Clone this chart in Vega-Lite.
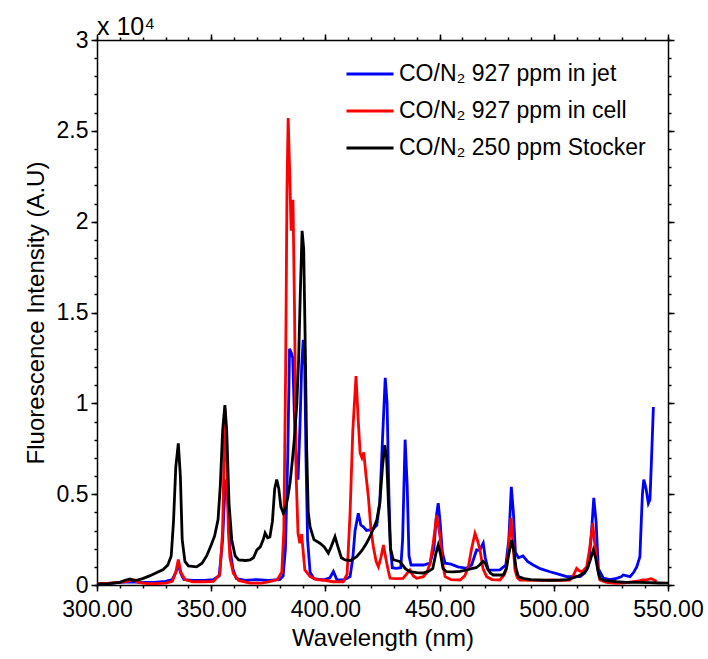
{
  "$schema": "https://vega.github.io/schema/vega-lite/v6.json",
  "width": 571,
  "height": 545,
  "autosize": "none",
  "padding": {"left": 97, "top": 40, "right": 40, "bottom": 74},
  "background": "white",
  "config": {
    "view": {"stroke": null},
    "font": "Liberation Sans",
    "axis": {"grid": false, "offset": 0, "domainColor": "black", "domainWidth": 1.5, "tickColor": "black", "tickWidth": 1.5, "labelColor": "black", "titleColor": "black", "labelFont": "Liberation Sans", "titleFont": "Liberation Sans", "titleFontWeight": "normal"}
  },
  "title": {"text": "x 10⁴", "anchor": "start", "frame": "group", "fontSize": 25, "fontWeight": "normal", "font": "Liberation Sans", "color": "black", "offset": -11},
  "datasets": {
    "jet": [
      {"w":300,"v":50},{"w":305,"v":80},{"w":310,"v":150},{"w":315,"v":180},{"w":320,"v":150},{"w":325,"v":150},{"w":330,"v":200},{"w":333,"v":300},{"w":334.5,"v":700},{"w":335.6,"v":1100},{"w":336.8,"v":600},{"w":338,"v":300},{"w":342,"v":250},{"w":347,"v":250},{"w":351,"v":300},{"w":353.5,"v":500},{"w":355,"v":2500},{"w":356.2,"v":5800},{"w":357.2,"v":5000},{"w":358.2,"v":2000},{"w":359.5,"v":900},{"w":361,"v":350},{"w":365,"v":250},{"w":370,"v":300},{"w":375,"v":250},{"w":380,"v":300},{"w":381.5,"v":500},{"w":382.5,"v":2000},{"w":383.5,"v":7000},{"w":384.3,"v":13000},{"w":385,"v":12800},{"w":385.7,"v":12500},{"w":386.5,"v":9000},{"w":387.3,"v":6500},{"w":388,"v":5800},{"w":388.8,"v":8500},{"w":389.6,"v":12000},{"w":390.3,"v":13500},{"w":390.9,"v":12500},{"w":391.5,"v":7000},{"w":392.2,"v":2500},{"w":393.3,"v":700},{"w":395,"v":350},{"w":399,"v":275},{"w":402,"v":400},{"w":403.5,"v":750},{"w":405,"v":300},{"w":408,"v":275},{"w":410.8,"v":460},{"w":412,"v":1500},{"w":413,"v":3000},{"w":414.4,"v":3950},{"w":415.5,"v":3300},{"w":416.6,"v":3200},{"w":418,"v":3000},{"w":419.5,"v":3030},{"w":421,"v":3100},{"w":422.5,"v":3300},{"w":423.8,"v":4500},{"w":425,"v":8000},{"w":426.2,"v":11400},{"w":427,"v":10000},{"w":427.8,"v":5000},{"w":428.5,"v":2000},{"w":429.3,"v":950},{"w":431,"v":920},{"w":433,"v":950},{"w":433.8,"v":2500},{"w":434.9,"v":8000},{"w":435.8,"v":5500},{"w":436.6,"v":1600},{"w":437.5,"v":1100},{"w":440,"v":1100},{"w":443,"v":1100},{"w":445.8,"v":1200},{"w":447.5,"v":2000},{"w":448.6,"v":3800},{"w":449.4,"v":4500},{"w":450.2,"v":3500},{"w":451.2,"v":1800},{"w":452.4,"v":1200},{"w":455,"v":1150},{"w":458,"v":1000},{"w":461.8,"v":920},{"w":464,"v":1100},{"w":466.2,"v":1930},{"w":467.5,"v":1900},{"w":469.1,"v":2300},{"w":470,"v":1500},{"w":471.3,"v":830},{"w":474,"v":820},{"w":476.4,"v":830},{"w":479,"v":1100},{"w":480.3,"v":2500},{"w":481.4,"v":5400},{"w":482.3,"v":4000},{"w":483.2,"v":1800},{"w":484.5,"v":1500},{"w":486.5,"v":1600},{"w":488.5,"v":1300},{"w":491,"v":1100},{"w":494,"v":900},{"w":498.3,"v":730},{"w":502,"v":600},{"w":505.6,"v":460},{"w":511.5,"v":460},{"w":513.5,"v":650},{"w":515,"v":1000},{"w":516.3,"v":2500},{"w":517.5,"v":4800},{"w":518.5,"v":3500},{"w":519.5,"v":900},{"w":521.7,"v":380},{"w":524.6,"v":300},{"w":527.5,"v":370},{"w":529.5,"v":450},{"w":530.4,"v":550},{"w":532,"v":500},{"w":533.4,"v":460},{"w":535,"v":700},{"w":536.3,"v":1000},{"w":537.7,"v":1560},{"w":538.3,"v":3500},{"w":538.8,"v":5000},{"w":539.4,"v":5800},{"w":540.4,"v":5300},{"w":541.4,"v":4500},{"w":542.1,"v":4700},{"w":542.8,"v":7000},{"w":543.6,"v":9800}
    ],
    "cell": [
      {"w":300,"v":80},{"w":305,"v":100},{"w":310,"v":150},{"w":313,"v":200},{"w":315.8,"v":300},{"w":318,"v":150},{"w":322,"v":80},{"w":326,"v":80},{"w":330,"v":100},{"w":333,"v":200},{"w":334.5,"v":700},{"w":335.6,"v":1400},{"w":336.7,"v":700},{"w":338.5,"v":300},{"w":342,"v":180},{"w":347,"v":180},{"w":351,"v":200},{"w":353.8,"v":600},{"w":355,"v":3000},{"w":356,"v":9700},{"w":356.8,"v":7000},{"w":357.5,"v":3000},{"w":358.2,"v":1500},{"w":359.7,"v":640},{"w":362,"v":250},{"w":367,"v":100},{"w":372,"v":100},{"w":376,"v":200},{"w":379,"v":300},{"w":380.9,"v":700},{"w":381.8,"v":3000},{"w":382.6,"v":12000},{"w":383.2,"v":22000},{"w":383.7,"v":25700},{"w":384.3,"v":23000},{"w":385,"v":19500},{"w":385.8,"v":21200},{"w":386.5,"v":15000},{"w":387.2,"v":6000},{"w":388,"v":2850},{"w":388.8,"v":2300},{"w":389.6,"v":2800},{"w":390.3,"v":1800},{"w":391,"v":830},{"w":393.3,"v":460},{"w":396,"v":300},{"w":399,"v":275},{"w":403.5,"v":180},{"w":407.8,"v":180},{"w":409.5,"v":600},{"w":410.8,"v":3950},{"w":412,"v":8500},{"w":413.4,"v":11500},{"w":414.4,"v":9000},{"w":415.2,"v":7270},{"w":416,"v":7000},{"w":416.8,"v":7300},{"w":417.8,"v":6000},{"w":418.8,"v":4860},{"w":420,"v":3000},{"w":421,"v":2110},{"w":422.2,"v":1300},{"w":423.2,"v":1000},{"w":424.3,"v":1500},{"w":425.4,"v":2200},{"w":426.4,"v":1500},{"w":427.5,"v":800},{"w":428.3,"v":370},{"w":431,"v":350},{"w":434,"v":370},{"w":435.5,"v":600},{"w":437,"v":825},{"w":438.5,"v":500},{"w":440,"v":370},{"w":442.9,"v":460},{"w":444.5,"v":700},{"w":445.8,"v":1190},{"w":447.2,"v":2300},{"w":448.7,"v":3850},{"w":450.2,"v":2660},{"w":451.3,"v":1200},{"w":452.4,"v":460},{"w":455,"v":300},{"w":459,"v":275},{"w":461,"v":500},{"w":462.6,"v":1000},{"w":464,"v":2000},{"w":465.5,"v":2850},{"w":466.5,"v":2500},{"w":467.7,"v":1930},{"w":469,"v":900},{"w":470.6,"v":460},{"w":473,"v":300},{"w":476.4,"v":275},{"w":478.5,"v":600},{"w":479.4,"v":1000},{"w":480.3,"v":2200},{"w":481.2,"v":3700},{"w":482,"v":2500},{"w":483,"v":830},{"w":484,"v":400},{"w":485.2,"v":275},{"w":490,"v":250},{"w":495,"v":250},{"w":498.3,"v":275},{"w":503,"v":260},{"w":507,"v":275},{"w":508.5,"v":500},{"w":510,"v":920},{"w":511,"v":800},{"w":512.2,"v":730},{"w":513.3,"v":850},{"w":514.4,"v":1000},{"w":515.7,"v":2000},{"w":517,"v":3400},{"w":518,"v":2200},{"w":518.8,"v":1376},{"w":519.6,"v":600},{"w":520.2,"v":275},{"w":523,"v":150},{"w":527.5,"v":90},{"w":531,"v":120},{"w":534.8,"v":180},{"w":537,"v":220},{"w":539,"v":275},{"w":541,"v":300},{"w":542.5,"v":350},{"w":543.5,"v":300},{"w":545,"v":200}
    ],
    "stocker": [
      {"w":300,"v":50},{"w":305,"v":80},{"w":310,"v":150},{"w":312,"v":250},{"w":314.4,"v":330},{"w":316,"v":250},{"w":318,"v":280},{"w":320,"v":350},{"w":323,"v":500},{"w":326,"v":680},{"w":329,"v":850},{"w":331,"v":1100},{"w":332.5,"v":1600},{"w":333.5,"v":3500},{"w":334.5,"v":6500},{"w":335.6,"v":7800},{"w":336.5,"v":6000},{"w":337.3,"v":2500},{"w":338.5,"v":1300},{"w":340,"v":1050},{"w":343.6,"v":1000},{"w":346,"v":1200},{"w":348,"v":1600},{"w":350,"v":2200},{"w":351.5,"v":2700},{"w":353,"v":3600},{"w":354,"v":5500},{"w":355,"v":8500},{"w":356,"v":9900},{"w":356.8,"v":8500},{"w":357.8,"v":4500},{"w":359,"v":2480},{"w":360.5,"v":1600},{"w":362,"v":1376},{"w":365,"v":1350},{"w":367,"v":1376},{"w":368.5,"v":1500},{"w":370,"v":1930},{"w":371.5,"v":2100},{"w":372.8,"v":2500},{"w":373.6,"v":2860},{"w":374.7,"v":2600},{"w":375.7,"v":2640},{"w":376.8,"v":3500},{"w":377.8,"v":5300},{"w":378.7,"v":5800},{"w":379.6,"v":5300},{"w":380.5,"v":4300},{"w":381.6,"v":3950},{"w":382.5,"v":4200},{"w":383.5,"v":4800},{"w":384.5,"v":5600},{"w":385.5,"v":6800},{"w":386.5,"v":8200},{"w":387.5,"v":10000},{"w":388.3,"v":12500},{"w":389,"v":16000},{"w":389.8,"v":19500},{"w":390.5,"v":18500},{"w":391.2,"v":13000},{"w":391.8,"v":7500},{"w":392.5,"v":4000},{"w":393.3,"v":3200},{"w":395,"v":2500},{"w":397.6,"v":2300},{"w":399.5,"v":2100},{"w":401.3,"v":1760},{"w":402.5,"v":2100},{"w":404.2,"v":2660},{"w":405.5,"v":2100},{"w":407,"v":1500},{"w":408.6,"v":1376},{"w":411,"v":1350},{"w":413.7,"v":1560},{"w":416,"v":1900},{"w":418,"v":2300},{"w":419.5,"v":2660},{"w":421,"v":3100},{"w":422.5,"v":3580},{"w":423.8,"v":4500},{"w":425,"v":6500},{"w":426,"v":7700},{"w":426.8,"v":7000},{"w":427.6,"v":4500},{"w":428.5,"v":2000},{"w":429.7,"v":1400},{"w":431,"v":1350},{"w":432.7,"v":1280},{"w":435,"v":900},{"w":437,"v":730},{"w":440,"v":680},{"w":442.8,"v":660},{"w":445,"v":750},{"w":447,"v":900},{"w":448.3,"v":1700},{"w":449.4,"v":2200},{"w":450.4,"v":1700},{"w":451.5,"v":900},{"w":453,"v":730},{"w":456,"v":720},{"w":459,"v":750},{"w":461.8,"v":825},{"w":464,"v":900},{"w":466,"v":950},{"w":467.5,"v":1100},{"w":469,"v":1300},{"w":470,"v":1200},{"w":471,"v":900},{"w":472.3,"v":650},{"w":473.5,"v":550},{"w":476,"v":550},{"w":477.9,"v":550},{"w":479.2,"v":900},{"w":480.3,"v":1700},{"w":481.6,"v":2480},{"w":482.6,"v":1800},{"w":483.5,"v":900},{"w":484.5,"v":457},{"w":487,"v":350},{"w":490,"v":300},{"w":494,"v":275},{"w":498,"v":260},{"w":502.7,"v":275},{"w":506,"v":300},{"w":510,"v":457},{"w":512.5,"v":600},{"w":514.4,"v":825},{"w":515.8,"v":1300},{"w":517.3,"v":1930},{"w":518.3,"v":1500},{"w":519.3,"v":800},{"w":520.2,"v":370},{"w":522,"v":250},{"w":527.5,"v":180},{"w":532,"v":150},{"w":537,"v":140},{"w":542,"v":130},{"w":546,"v":110},{"w":550,"v":100}
    ]
  },
  "layer": [
    {
      "data": {"name": "stocker"},
      "mark": {"type": "line", "opacity": 0},
      "encoding": {
        "x": {"field": "w", "type": "quantitative", "scale": {"domain": [300, 550], "nice": false, "zero": false},
          "axis": {"orient": "bottom", "offset": 0, "values": [300,310,320,330,340,350,360,370,380,390,400,410,420,430,440,450,460,470,480,490,500,510,520,530,540,550], "labels": false, "tickSize": 3, "domain": false, "title": null}},
        "y": {"field": "v", "type": "quantitative", "scale": {"domain": [0, 30000], "nice": false},
          "axis": {"orient": "left", "offset": 0, "values": [0,1000,2000,3000,4000,5000,6000,7000,8000,9000,10000,11000,12000,13000,14000,15000,16000,17000,18000,19000,20000,21000,22000,23000,24000,25000,26000,27000,28000,29000,30000], "labels": false, "tickSize": 3, "domain": false, "title": null}}
      }
    },
    {
      "data": {"name": "jet"},
      "transform": [{"calculate": "'CO/N₂ 927 ppm in jet'", "as": "s"}],
      "mark": {"type": "line", "strokeWidth": 2.8},
      "encoding": {
        "x": {"field": "w", "type": "quantitative",
          "axis": {"orient": "bottom", "offset": 0, "values": [300,350,400,450,500,550], "format": ".2f", "labelFontSize": 23, "tickSize": 6, "labelPadding": 7, "labelOverlap": false, "labelFlush": false, "title": "Wavelength (nm)", "titleFontSize": 24, "titlePadding": 5}},
        "y": {"field": "v", "type": "quantitative",
          "axis": {"orient": "left", "offset": 0, "values": [0,5000,10000,15000,20000,25000,30000], "labelExpr": "datum.value / 10000", "labelFontSize": 23, "tickSize": 6, "labelPadding": 3, "labelOverlap": false, "labelFlush": false, "title": "Fluorescence Intensity (A.U)", "titleFontSize": 24, "titlePadding": 8}},
        "color": {"field": "s", "type": "nominal",
          "scale": {"domain": ["CO/N₂ 927 ppm in jet", "CO/N₂ 927 ppm in cell", "CO/N₂ 250 ppm Stocker"], "range": ["#0000ff", "#ff0000", "#000000"]},
          "legend": {"orient": "none", "legendX": 248, "legendY": 9, "title": null, "padding": 0, "symbolType": "stroke", "symbolSize": 2209, "symbolStrokeWidth": 3, "labelFontSize": 23, "labelFont": "Liberation Sans", "labelColor": "black", "labelOffset": 4, "rowPadding": -9, "labelLimit": 400}}
      }
    },
    {
      "data": {"name": "cell"},
      "transform": [{"calculate": "'CO/N₂ 927 ppm in cell'", "as": "s"}],
      "mark": {"type": "line", "strokeWidth": 2.8},
      "encoding": {
        "x": {"field": "w", "type": "quantitative",
          "axis": {"orient": "top", "offset": 0, "values": [300,350,400,450,500,550], "labels": false, "tickSize": 6, "title": null}},
        "y": {"field": "v", "type": "quantitative",
          "axis": {"orient": "right", "offset": 0, "values": [0,5000,10000,15000,20000,25000,30000], "labels": false, "tickSize": 6, "title": null}},
        "color": {"field": "s", "type": "nominal"}
      }
    },
    {
      "data": {"name": "stocker"},
      "transform": [{"calculate": "'CO/N₂ 250 ppm Stocker'", "as": "s"}],
      "mark": {"type": "line", "strokeWidth": 2.8},
      "encoding": {
        "x": {"field": "w", "type": "quantitative",
          "axis": {"orient": "top", "offset": 0, "values": [300,310,320,330,340,350,360,370,380,390,400,410,420,430,440,450,460,470,480,490,500,510,520,530,540,550], "labels": false, "tickSize": 3, "domain": false, "title": null}},
        "y": {"field": "v", "type": "quantitative",
          "axis": {"orient": "right", "offset": 0, "values": [0,1000,2000,3000,4000,5000,6000,7000,8000,9000,10000,11000,12000,13000,14000,15000,16000,17000,18000,19000,20000,21000,22000,23000,24000,25000,26000,27000,28000,29000,30000], "labels": false, "tickSize": 3, "domain": false, "title": null}},
        "color": {"field": "s", "type": "nominal"}
      }
    }
  ],
  "resolve": {"axis": {"x": "independent", "y": "independent"}}
}
